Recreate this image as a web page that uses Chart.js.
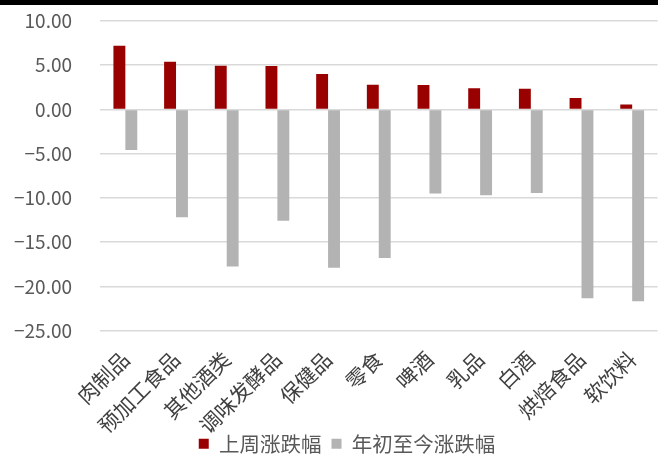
<!DOCTYPE html>
<html>
<head>
<meta charset="utf-8">
<script src="https://cdn.jsdelivr.net/npm/chart.js@4"></script>
<style>
  body { margin: 0; background: #fff; }
  #topbar { width: 658px; height: 5px; background: #000; }
  #wrap { width: 658px; height: 451px; position: relative; }
</style>
</head>
<body>
<div id="topbar"></div>
<div id="wrap"><canvas id="chart"></canvas></div>
<script>
// 行业分类
const categories = ['肉制品', '预加工食品', '其他酒类', '调味发酵品', '保健品', '零食', '啤酒', '乳品', '白酒', '烘焙食品', '软饮料'];
// 上周涨跌幅
const weekChange = [7.2, 5.4, 4.95, 4.9, 4.0, 2.8, 2.75, 2.4, 2.35, 1.3, 0.55];
// 年初至今涨跌幅
const ytdChange = [-4.6, -12.2, -17.75, -12.6, -17.9, -16.8, -9.5, -9.7, -9.45, -21.35, -21.7];
const seriesNames = ['上周涨跌幅', '年初至今涨跌幅'];
const yMin = -25, yMax = 10, yStep = 5;

// 图例位置微调，贴近类目标签
const legendShift = {
    id: 'legendShift',
    afterLayout(chart) {
        const lg = chart.legend;
        lg.top -= 9;
        lg.bottom -= 9;
        lg.left += 18;
        lg.right += 18;
    }
};

const ctx = document.getElementById('chart').getContext('2d');
new Chart(ctx, {
    type: 'bar',
    data: {
        labels: categories,
        datasets: [
            {
                label: seriesNames[0],
                data: weekChange,
                backgroundColor: '#990000',
                barPercentage: 1,
                categoryPercentage: 0.47
            },
            {
                label: seriesNames[1],
                data: ytdChange,
                backgroundColor: '#b3b3b3',
                barPercentage: 1,
                categoryPercentage: 0.47
            }
        ]
    },
    plugins: [legendShift],
    options: {
        responsive: true,
        maintainAspectRatio: false,
        animation: false,
        layout: { padding: { top: 0, right: 0, left: 0, bottom: -17 } },
        plugins: {
            tooltip: { enabled: false },
            legend: {
                position: 'bottom',
                labels: {
                    color: '#595959',
                    boxWidth: 10,
                    boxHeight: 10,
                    padding: 10,
                    font: { family: '"Noto Sans CJK SC"', size: 20.5 }
                }
            }
        },
        scales: {
            x: {
                grid: { display: false },
                border: { display: false },
                afterFit: (scale) => { scale.height = 102; },
                ticks: {
                    color: '#404040',
                    minRotation: 45,
                    maxRotation: 45,
                    padding: 8,
                    font: { family: '"Noto Sans CJK SC"', size: 21 }
                }
            },
            y: {
                min: yMin,
                max: yMax,
                afterFit: (scale) => {
                    scale.width = 100;
                    scale.paddingTop = 16;
                    scale.paddingBottom = 11;
                },
                grid: { color: '#d9d9d9', lineWidth: 1.5, drawTicks: false },
                border: { display: false },
                ticks: {
                    stepSize: yStep,
                    color: '#595959',
                    padding: 28,
                    font: { family: '"Noto Sans CJK SC"', size: 19 },
                    callback: (v) => (v < 0 ? '\u2212' : '') + Math.abs(v).toFixed(2)
                }
            }
        }
    }
});
</script>
</body>
</html>
